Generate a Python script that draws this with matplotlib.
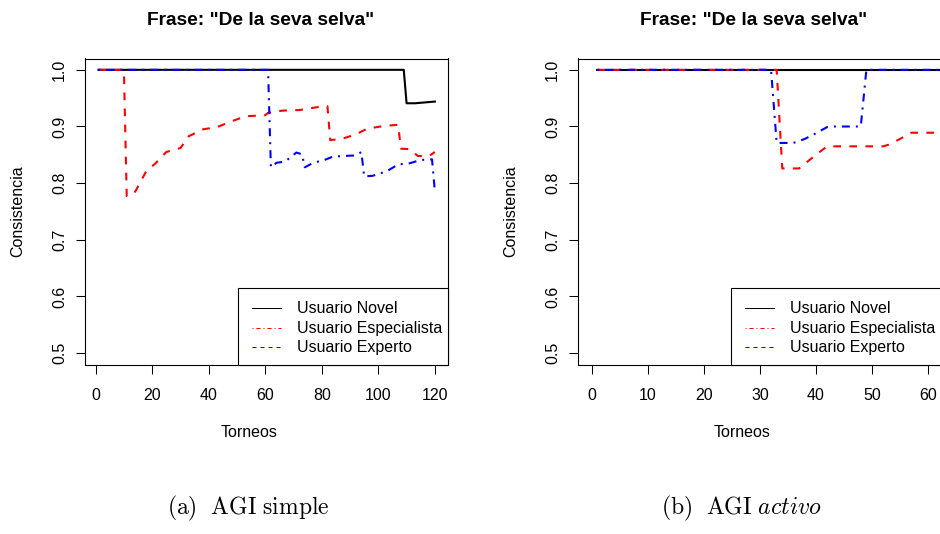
import matplotlib.pyplot as plt
from matplotlib.patches import Rectangle

plt.rcParams['font.family'] = ['Liberation Sans', 'DejaVu Sans']
plt.rcParams['mathtext.fontset'] = 'cm'

# ---- data (breakpoints) ----
series_names = ["Usuario Novel", "Usuario Especialista", "Usuario Experto"]
title_text = 'Frase: "De la seva selva"'

# (a) AGI simple
simple_novel_x = [1, 109, 110, 113, 120]
simple_novel_y = [1.0, 1.0, 0.941, 0.941, 0.944]

simple_espec_x = [1, 10, 11, 14, 18, 21, 25, 30, 33, 38, 43, 48, 53, 60, 61,
                  66, 72, 77, 81, 82, 83, 87, 92, 96, 102, 107, 108, 111,
                  114, 118, 120]
simple_espec_y = [1.0, 1.0, 0.777, 0.785, 0.822, 0.834, 0.855, 0.862, 0.883,
                  0.895, 0.899, 0.909, 0.918, 0.920, 0.924, 0.928, 0.929,
                  0.933, 0.936, 0.936, 0.876, 0.878, 0.886, 0.896, 0.901,
                  0.903, 0.861, 0.860, 0.848, 0.848, 0.855]

simple_exp_x = [1, 61, 62, 64, 67, 71, 73, 74, 77, 81, 84, 92, 94, 95, 98,
                103, 107, 111, 115, 119, 120]
simple_exp_y = [1.0, 1.0, 0.828, 0.836, 0.838, 0.854, 0.851, 0.828, 0.836,
                0.841, 0.847, 0.849, 0.855, 0.812, 0.813, 0.821, 0.833,
                0.835, 0.841, 0.842, 0.786]

# (b) AGI activo
activo_novel_x = [1, 64]
activo_novel_y = [1.0, 1.0]

activo_espec_x = [1, 33, 34, 37, 38, 40, 42, 52, 53, 55, 57, 64]
activo_espec_y = [1.0, 1.0, 0.826, 0.826, 0.834, 0.850, 0.865, 0.865, 0.868,
                  0.878, 0.889, 0.889]

activo_exp_x = [1, 32, 33, 36, 38, 40, 42, 43, 48, 49, 64]
activo_exp_y = [1.0, 1.0, 0.871, 0.871, 0.878, 0.888, 0.899, 0.900, 0.900,
                1.0, 1.0]

simple_xticks = [0, 20, 40, 60, 80, 100, 120]
activo_xticks = [0, 10, 20, 30, 40, 50, 60]
yticks = [0.5, 0.6, 0.7, 0.8, 0.9, 1.0]

# ---- styles ----
colors = ["black", "red", "blue"]
plot_styles = ["-", (0, (3.7, 4.0)), (0, (0.96, 2.88, 3.84, 2.88))]
# the legend shows the line types swapped, as in the original
legend_styles = ["-", (0, (0.96, 2.88, 3.84, 2.88)), (0, (3.84, 3.84))]

W, H = 940, 534
fig = plt.figure(figsize=(W / 100, H / 100), dpi=100)


def axes_px(left, top, right, bottom):
    return fig.add_axes([left / W, 1 - bottom / H, (right - left) / W,
                         (bottom - top) / H])


def draw_panel(ax, xs, ys, xlim, xticks):
    for x, y, c, ls in zip(xs, ys, colors, plot_styles):
        ax.plot(x, y, color=c, linestyle=ls, linewidth=1.5)
    ax.set_xlim(*xlim)
    ax.set_ylim(0.48, 1.02)
    ax.set_xticks(xticks)
    ax.set_xticklabels([str(t) for t in xticks])
    ax.set_yticks(yticks)
    ax.set_yticklabels(["%.1f" % t for t in yticks])
    for s in ax.spines.values():
        s.set_linewidth(0.8)
    ax.tick_params(direction='out', length=6.5, width=0.75, labelsize=11.5)
    ax.tick_params(axis='x', pad=10.5)
    ax.tick_params(axis='y', pad=6.5, labelrotation=90)
    for lbl in ax.get_yticklabels():
        lbl.set_va('center')

    ax.text(0.483, 1.111, title_text, transform=ax.transAxes, ha='center',
            va='baseline', fontsize=13.8, fontweight='bold')
    ax.text(0.452, -0.238, "Torneos", transform=ax.transAxes, ha='center',
            va='baseline', fontsize=11.5)
    ax.text(-0.186, 0.5, "Consistencia", transform=ax.transAxes,
            ha='center', va='center', rotation=90, fontsize=11.5)

    # legend box in the bottom right corner
    ax.add_patch(Rectangle((0.4203, 0.0), 0.5797, 0.25,
                           transform=ax.transAxes, facecolor='white',
                           edgecolor='black', linewidth=0.8, zorder=5,
                           clip_on=False))
    rows = [0.1835, 0.1182, 0.0561]
    for yy, name, c, ls in zip(rows, series_names, colors, legend_styles):
        ax.plot([0.4589, 0.5395], [yy, yy], transform=ax.transAxes,
                color=c, linestyle=ls, linewidth=0.75, zorder=6,
                clip_on=False)
        ax.text(0.5827, yy, name, transform=ax.transAxes, ha='left',
                va='center', fontsize=11.5, zorder=6)


ax1 = axes_px(85, 58.5, 448.3, 364.5)
draw_panel(ax1,
           [simple_novel_x, simple_espec_x, simple_exp_x],
           [simple_novel_y, simple_espec_y, simple_exp_y],
           (1 - 0.04 * 119, 120 + 0.04 * 119), simple_xticks)

ax2 = axes_px(578.2, 58.5, 941.5, 364.5)
draw_panel(ax2,
           [activo_novel_x, activo_espec_x, activo_exp_x],
           [activo_novel_y, activo_espec_y, activo_exp_y],
           (-2.4, 62.4), activo_xticks)

fig.text(248 / W, 1 - 508 / H, r'$\mathrm{(a)\ \ AGI\ simple}$',
         ha='center', va='center', fontsize=17)
fig.text(741 / W, 1 - 508 / H, r'$\mathrm{(b)\ \ AGI}\ \mathit{activo}$',
         ha='center', va='center', fontsize=17)

plt.savefig("out.png", dpi=100)
